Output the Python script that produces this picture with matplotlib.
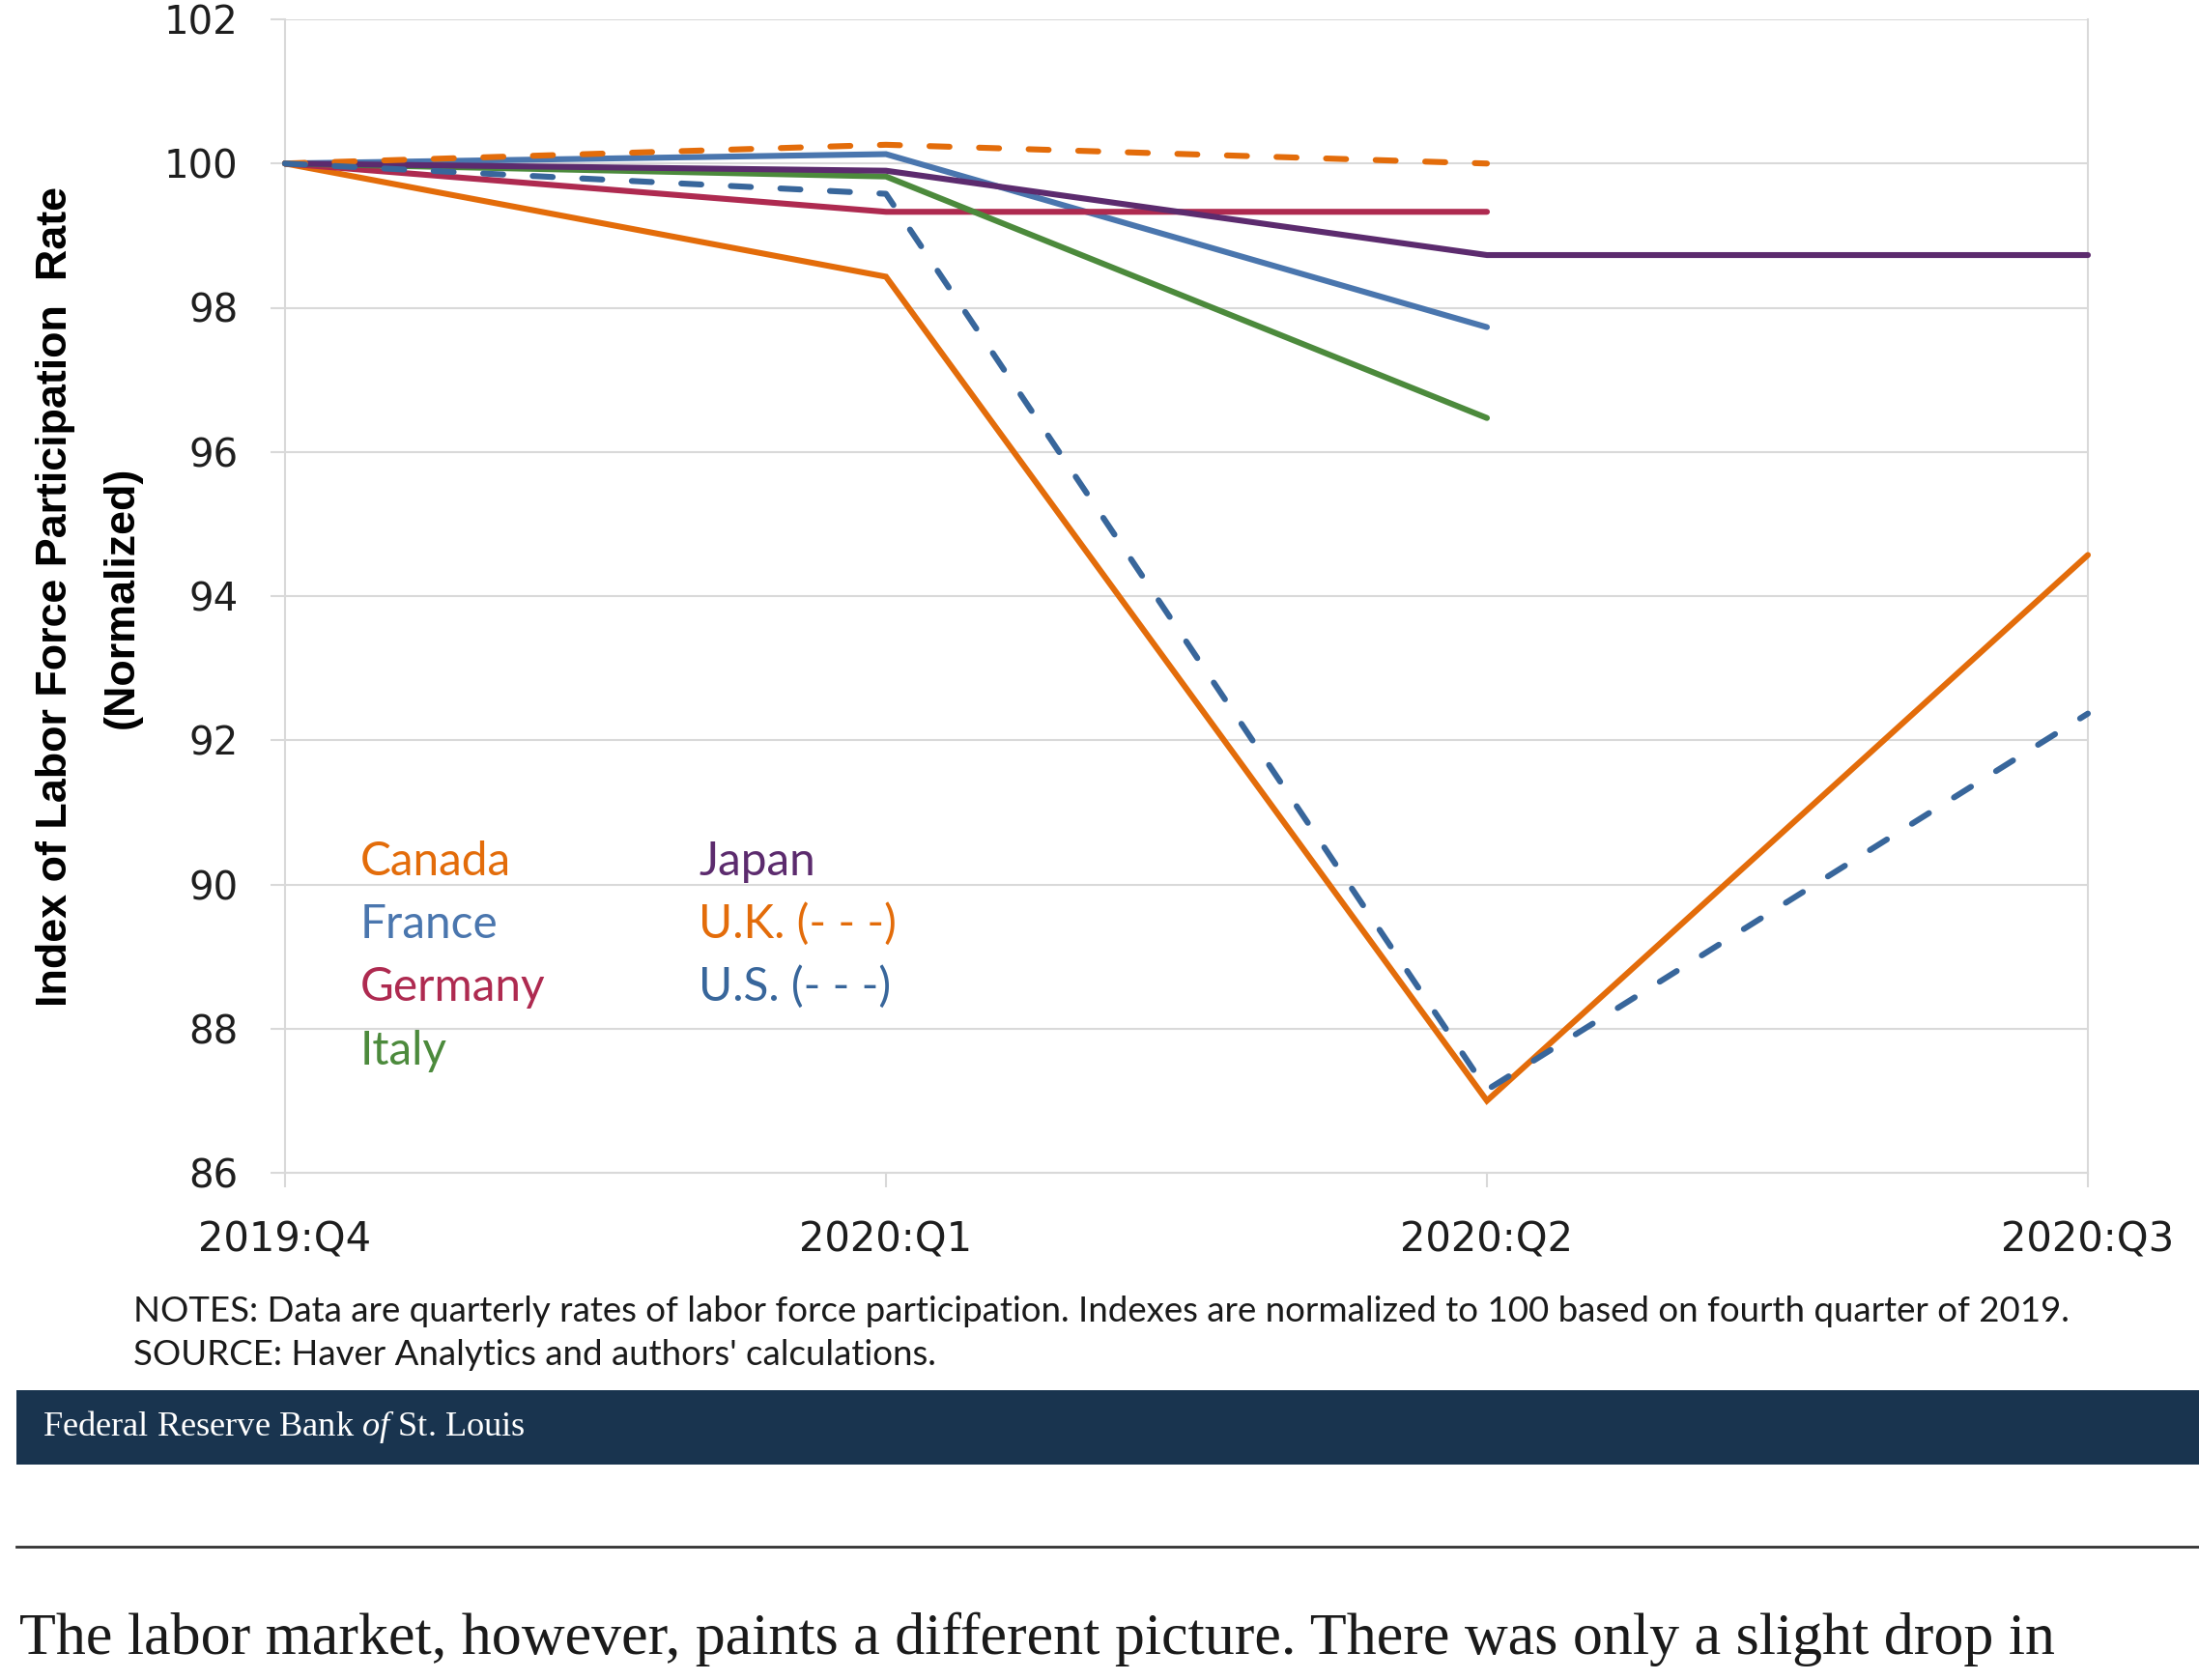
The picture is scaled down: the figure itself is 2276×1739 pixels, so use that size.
import matplotlib
matplotlib.use("Agg")
import matplotlib.pyplot as plt
from matplotlib import font_manager as fm
from matplotlib.patches import Rectangle
from matplotlib.lines import Line2D

# ---- data -------------------------------------------------------------
quarters = ["2019:Q4", "2020:Q1", "2020:Q2", "2020:Q3"]
canada = [100.0, 98.43, 87.00, 94.57]
france = [100.0, 100.13, 97.73]
germany = [100.0, 99.33, 99.33]
italy = [100.0, 99.82, 96.47]
japan = [100.0, 99.90, 98.73, 98.73]
uk = [100.0, 100.26, 100.00]
us = [100.0, 99.58, 87.15, 92.37]
y_ticks = [86, 88, 90, 92, 94, 96, 98, 100, 102]

legend_left = ["Canada", "France", "Germany", "Italy"]
legend_right = ["Japan", "U.K. (- - -)", "U.S. (- - -)"]

notes = ("NOTES: Data are quarterly rates of labor force participation. "
         "Indexes are normalized to 100 based on fourth quarter of 2019.")
source = "SOURCE: Haver Analytics and authors' calculations."
banner = r"Federal Reserve Bank $\mathit{of}$ St. Louis"
paragraph = ("The labor market, however, paints a different picture. "
             "There was only a slight drop in")

# ---- style ------------------------------------------------------------
C_CAN = "#E36C0A"
C_FRA = "#4A76AE"
C_GER = "#AE2A50"
C_ITA = "#4C8A3C"
C_JPN = "#5C2B6E"
C_UK = "#E36C0A"
C_US = "#38669B"
GRID = "#D9D9D9"

names = {f.name for f in fm.fontManager.ttflist}
NARROW = "Liberation Sans Narrow" if "Liberation Sans Narrow" in names else "Liberation Sans"
LABEL_FONT = "Lato"
SERIF = "Liberation Serif"

plt.rcParams["mathtext.fontset"] = "custom"
plt.rcParams["mathtext.rm"] = SERIF
plt.rcParams["mathtext.it"] = SERIF + ":italic"

W, H, DPI = 2276, 1739, 100
fig = plt.figure(figsize=(W / DPI, H / DPI), dpi=DPI, facecolor="white")


def fx(x):
    return x / W


def fy(y):
    return 1 - y / H


# plot area in pixel bounds
L, R, T, B = 295, 2161, 20, 1214
ax = fig.add_axes([fx(L), fy(B), (R - L) / W, (B - T) / H])

LW = 4.4
DASH = (0, (3.4, 5.0))

series = [
    (canada, C_CAN, "-"),
    (france, C_FRA, "-"),
    (germany, C_GER, "-"),
    (italy, C_ITA, "-"),
    (japan, C_JPN, "-"),
    (uk, C_UK, DASH),
    (us, C_US, DASH),
]
for vals, col, ls in series:
    ax.plot(range(len(vals)), vals, color=col, lw=LW, linestyle=ls,
            dash_capstyle="round", solid_capstyle="round",
            solid_joinstyle="miter", clip_on=False, zorder=3)

ax.set_xlim(0, 3)
ax.set_ylim(86, 102)
ax.set_yticks(y_ticks)
ax.set_yticklabels([str(v) for v in y_ticks])
ax.set_xticks(range(len(quarters)))
ax.set_xticklabels(quarters)
ax.grid(axis="y", color=GRID, lw=1.5, zorder=0)
for s in ax.spines.values():
    s.set_color(GRID)
    s.set_linewidth(1.5)
ax.spines["top"].set_visible(False)
ax.tick_params(axis="both", length=11, width=1.5, color=GRID, pad=24,
               labelcolor="#1E1E1E")
ax.tick_params(axis="y", labelsize=29)
ax.tick_params(axis="x", labelsize=30)
for lab in ax.get_xticklabels() + ax.get_yticklabels():
    lab.set_family("DejaVu Sans")

renderer = fig.canvas.get_renderer()


def fit(t, target, vertical=False):
    bb = t.get_window_extent(renderer)
    cur = bb.height if vertical else bb.width
    t.set_fontsize(t.get_fontsize() * target / cur)


# y-axis title (two lines)
yl1 = fig.text(fx(58), fy(617), "Index of Labor Force Participation  Rate",
               rotation=90, ha="center", va="center", family=NARROW,
               fontweight="bold", fontsize=30, color="black")
fit(yl1, 849, vertical=True)
yl2 = fig.text(fx(126), fy(618), "(Normalized)", rotation=90, ha="center",
               va="center", family=NARROW, fontweight="bold",
               fontsize=yl1.get_fontsize(), color="black")

# in-plot legend labels
left_cols = [C_CAN, C_FRA, C_GER, C_ITA]
right_cols = [C_JPN, C_UK, C_US]
baselines = [906, 971, 1036, 1102]
probe = fig.text(0, 0, "Germany", family=LABEL_FONT, fontsize=33)
fit(probe, 192)
LEG_FS = probe.get_fontsize()
probe.remove()
for name, col, yb in zip(legend_left, left_cols, baselines):
    fig.text(fx(373), fy(yb), name, color=col, family=LABEL_FONT,
             fontsize=LEG_FS, va="baseline", ha="left")
for name, col, yb in zip(legend_right, right_cols, baselines):
    fig.text(fx(723), fy(yb), name, color=col, family=LABEL_FONT,
             fontsize=LEG_FS, va="baseline", ha="left")

# notes and source
tn = fig.text(fx(138), fy(1368), notes, family=LABEL_FONT, fontsize=23,
              color="#1A1A1A", va="baseline", ha="left")
fit(tn, 2006)
fig.text(fx(138), fy(1413), source, family=LABEL_FONT,
         fontsize=tn.get_fontsize(), color="#1A1A1A", va="baseline", ha="left")

# footer banner
fig.add_artist(Rectangle((fx(17), fy(1516)), (W - 17) / W, 77 / H,
                         transform=fig.transFigure, facecolor="#19344F",
                         edgecolor="none"))
tb = fig.text(fx(44), fy(1486), banner, family=SERIF, fontsize=24,
              color="white", va="baseline", ha="left")
fit(tb, 500)

# separator rule and following paragraph
fig.add_artist(Line2D([fx(17), 1], [fy(1601), fy(1601)],
                      transform=fig.transFigure, color="#333333", lw=2.0))
tp = fig.text(fx(20), fy(1712), paragraph, family=SERIF, fontsize=40,
              color="#1A1A1A", va="baseline", ha="left")
fit(tp, 2106)

fig.savefig("out.png", dpi=DPI, facecolor="white")
